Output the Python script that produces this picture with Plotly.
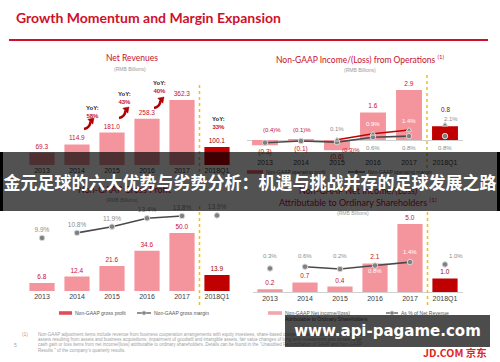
import plotly.graph_objects as go

W, H = 500, 362
def px(v): return v / W
def py(v): return 1 - v / H

# ---------------- data ----------------
years = ["2013", "2014", "2015", "2016", "2017", "2018Q1"]
net_revenues = [69.3, 114.9, 181.0, 258.3, 362.3, 100.1]
yoy_growth = ["58%", "43%", "40%", "33%"]
op_profit = [-0.3, -0.1, -0.6, 1.6, 2.9, 0.8]
op_margin = [-0.4, -0.1, -0.3, 0.6, 0.8, 0.8]
op_margin_2 = [None, None, 0.1, 0.9, 1.4, 2.1]
gross_profit = [6.8, 12.4, 21.6, 34.6, 50.0, 13.9]
gross_margin = [9.9, 10.8, 11.9, 13.4, 13.8, 13.9]
net_income = [0.2, 0.7, 0.4, 2.1, 5.0, 1.0]
net_margin = [0.3, 0.6, 0.2, 0.8, 1.4, 1.0]

# ---------------- style ----------------
SANS = "Liberation Sans, Arial, sans-serif"
TITLE_FONT = "Lato, Open Sans, sans-serif"
PINK = "#f4959d"
DARK = "#c00000"
RED_TXT = "#c8102e"
DARK_TXT = "#9a0000"
GREY_TXT = "#8c8c8c"
LINE_GREY = "#4a4a4a"
MARK_GREY = "#808080"
GOLD = "#f2c200"


def fmt_num(v):
    return f"({abs(v):.1f})" if v < 0 else f"{v:.1f}"


def fmt_pct(v):
    return f"({abs(v):.1f})%" if v < 0 else f"{v:.1f}%"


def seg(vals, lo, hi):
    return [v if (lo <= i <= hi) else None for i, v in enumerate(vals)]


fig = go.Figure()


def add_bars(vals, xa, ya, last_text=True):
    n = len(vals)
    texts = [fmt_num(v) for v in vals]
    if not last_text:
        texts[-1] = ""
    fig.add_trace(go.Bar(
        x=years, y=vals, xaxis=xa, yaxis=ya, width=0.72,
        marker=dict(color=[PINK] * (n - 1) + [DARK], line=dict(width=0)),
        text=texts, textposition="outside",
        textfont=dict(size=6.5, family=SANS, color=[RED_TXT] * (n - 1) + [DARK_TXT]),
        cliponaxis=False, constraintext="none", showlegend=False, hoverinfo="skip"))


def add_line(vals, xa, ya, color, lo, hi):
    fig.add_trace(go.Scatter(
        x=years, y=seg(vals, lo, hi), xaxis=xa, yaxis=ya, mode="lines",
        line=dict(color=color, width=1.6), connectgaps=False,
        showlegend=False, hoverinfo="skip", cliponaxis=False))


def add_markers(vals, xa, ya, symbol="circle", text=None, size=5.5):
    fig.add_trace(go.Scatter(
        x=years, y=vals, xaxis=xa, yaxis=ya,
        mode="markers+text" if text else "markers",
        marker=dict(symbol=symbol, size=size, color=MARK_GREY, line=dict(color="#d9d9d9", width=1)),
        text=text, textposition="top center",
        textfont=dict(size=6.5, family=SANS, color=GREY_TXT),
        showlegend=False, hoverinfo="skip", cliponaxis=False))


# Panel 1: Net revenues
add_bars(net_revenues, "x", "y")
# Panel 2: Non-GAAP operating profit + margins
add_bars(op_profit, "x2", "y2", last_text=False)
add_line(op_margin, "x2", "y5", LINE_GREY, 0, 4)
add_line(op_margin_2, "x2", "y8", "#c00000", 2, 4)
add_markers(op_margin, "x2", "y5")
add_markers(op_margin_2, "x2", "y8", symbol="triangle-up", size=5)
# Panel 3: gross profit + margin
add_bars(gross_profit, "x3", "y3")
add_line(gross_margin, "x3", "y6", LINE_GREY, 1, 4)
add_markers(gross_margin, "x3", "y6", text=[fmt_pct(v) for v in gross_margin])
# Panel 4: net income + margin
add_bars(net_income, "x4", "y4")
add_line(net_margin, "x4", "y7", LINE_GREY, 1, 4)
add_markers(net_margin, "x4", "y7")


def xcat(domain, anchor, showline=False):
    return dict(domain=domain, anchor=anchor, type="category", categoryorder="array",
                categoryarray=years, range=[-0.5, 5.5], showgrid=False, zeroline=False,
                showline=showline, linecolor="#d0d0d0", linewidth=1, ticks="",
                tickfont=dict(size=7, color="#404040", family=SANS), fixedrange=True)


def yval(domain, anchor, rng, zeroline=False):
    return dict(domain=domain, anchor=anchor, range=rng, showgrid=False, zeroline=zeroline,
                zerolinecolor="#cfcfcf", zerolinewidth=1, showticklabels=False, ticks="",
                showline=False, fixedrange=True)


def yover(over, anchor, rng):
    return dict(overlaying=over, anchor=anchor, range=rng, visible=False, fixedrange=True)


fig.update_layout(
    width=W, height=H, autosize=False,
    margin=dict(l=0, r=0, t=0, b=0, pad=0),
    paper_bgcolor="white", plot_bgcolor="rgba(0,0,0,0)",
    showlegend=False, bargap=0.28,
    xaxis=xcat([px(24.5), px(234.5)], "y"),
    yaxis=yval([py(165), py(93.2)], "x", [0, 400]),
    xaxis2=xcat([px(247), px(463)], "y2"),
    yaxis2=yval([py(157.24), py(83.1)], "x2", [-1.0, 3.3], zeroline=True),
    xaxis3=xcat([px(24.5), px(234.5)], "y3"),
    yaxis3=yval([py(291), py(209.8)], "x3", [0, 70]),
    xaxis4=xcat([px(252.5), px(462.5)], "y4", showline=True),
    yaxis4=yval([py(292), py(217.2)], "x4", [0, 5.5]),
    yaxis5=yover("y2", "x2", [-3.044, 10.436]),
    yaxis8=yover("y2", "x2", [-2.232, 7.653]),
    yaxis6=yover("y3", "x3", [0.496, 14.89]),
    yaxis7=yover("y4", "x4", [-3.759, 9.138]),
)

shapes = []
# header rule
shapes.append(dict(type="line", xref="paper", yref="paper", x0=px(9), x1=px(488), y0=py(40), y1=py(40),
                   line=dict(color="#d0102a", width=2)))
# dotted separators before 2018Q1
for xr, y0, y1 in [("x", 83, 178), ("x2", 73, 168), ("x3", 206, 305), ("x4", 212, 305)]:
    shapes.append(dict(type="line", xref=xr, yref="paper", x0=4.5, x1=4.5, y0=py(y1), y1=py(y0),
                       line=dict(color=GOLD, width=1.5, dash="dot")))


# swoosh growth icons (decoration)
def P(x, y):
    return f"{px(x):.5f},{py(y):.5f}"


def swoosh(hx, hy):
    body = f"M{P(hx - 10, hy + 11)} Q{P(hx - 4, hy + 10)} {P(hx - 3.5, hy + 3.5)}"
    shapes.append(dict(type="path", xref="paper", yref="paper", path=body,
                       line=dict(color="#b00000", width=2.6)))
    head = f"M{P(hx, hy)} L{P(hx - 1.2, hy + 6.2)} L{P(hx - 6.2, hy + 1.2)} Z"
    shapes.append(dict(type="path", xref="paper", yref="paper", path=head,
                       fillcolor="#b00000", line=dict(color="#b00000", width=0.5)))


for hx, hy in [(94, 118), (129, 107), (164, 97)]:
    swoosh(hx, hy)


# manual legend keys
def legend_bar(x0, x1, y, color):
    shapes.append(dict(type="rect", xref="paper", yref="paper", x0=px(x0), x1=px(x1),
                       y0=py(y + 1.8), y1=py(y - 1.8), fillcolor=color, line=dict(width=0)))


def legend_line(x0, x1, y):
    shapes.append(dict(type="line", xref="paper", yref="paper", x0=px(x0), x1=px(x1), y0=py(y), y1=py(y),
                       line=dict(color=LINE_GREY, width=1.2)))
    xm = (x0 + x1) / 2
    shapes.append(dict(type="circle", xref="paper", yref="paper", x0=px(xm - 2), x1=px(xm + 2),
                       y0=py(y + 2), y1=py(y - 2), fillcolor=MARK_GREY, line=dict(color="#d9d9d9", width=0.6)))


legend_bar(247, 263, 172, "#e8606c")
legend_line(348, 365, 172)
legend_bar(59, 72, 313, "#e34b5b")
legend_line(137, 151, 313)
legend_bar(268, 282, 313, "#f4a6ad")
legend_line(386, 398, 313)
# banner edges
shapes.append(dict(type="rect", xref="paper", yref="paper", x0=0, x1=px(3), y0=py(211), y1=py(152),
                   fillcolor="black", line=dict(width=0)))
shapes.append(dict(type="rect", xref="paper", yref="paper", x0=px(497), x1=1, y0=py(211), y1=py(152),
                   fillcolor="black", line=dict(width=0)))
fig.update_layout(shapes=shapes)


def note(text, x, y, xref="paper", yref="paper", size=6, color=GREY_TXT, family=SANS,
         xanchor="center", yanchor="middle", xshift=0, yshift=0, **kw):
    fig.add_annotation(text=text, x=x, y=y, xref=xref, yref=yref, showarrow=False,
                       font=dict(size=size, color=color, family=family), xanchor=xanchor,
                       yanchor=yanchor, xshift=xshift, yshift=yshift, borderpad=0, **kw)


# header
note("<b>Growth Momentum and Margin Expansion</b>", px(15), py(18), size=14, color="#d0102a",
     family=TITLE_FONT, xanchor="left")

# panel titles
note("Net Revenues", px(132), py(58), size=8.5, color=RED_TXT, family=TITLE_FONT)
note("(RMB Billions)", px(130), py(69), size=5, color="#9a9a9a")
note("Non-GAAP Income/(Loss) from Operations <sup>(1)</sup>", px(360), py(59), size=8.5,
     color=RED_TXT, family=TITLE_FONT)
note("(RMB Billions)", px(360), py(70), size=5, color="#9a9a9a")
note("Non-GAAP Gross Profit", px(125), py(189), size=9, color=RED_TXT, family=TITLE_FONT)
note("(RMB Billions)", px(122), py(200), size=5, color="#9a9a9a")
note("Non-GAAP Net Income/(Loss)", px(358), py(190), size=9, color=RED_TXT, family=TITLE_FONT)
note("Attributable to Ordinary Shareholders <sup>(1)</sup>", px(358), py(202), size=9,
     color=RED_TXT, family=TITLE_FONT)
note("(RMB Billions)", px(353), py(213), size=5, color="#9a9a9a")

# YoY call-outs (panel 1)
yoy_pos = [(1.43, 111.5), (2.37, 98), (3.37, 87), (5.03, 123)]
for g, (xi, yc) in zip(yoy_growth, yoy_pos):
    note(f"<b>YoY:</b><br><b><span style='color:{RED_TXT}'>{g}</span></b>", xi, py(yc),
         xref="x", size=6, color="#222222")

# panel 2 labels
note(fmt_num(op_profit[-1]), 5, py(109), xref="x2", size=6.5, color=DARK_TXT)
grey_pos = [(7, 130), (1, 130), (14, 150), (0, 148), (0, 148), (0, 148)]
for i, (v, (dx, yy)) in enumerate(zip(op_margin, grey_pos)):
    note(fmt_pct(v), i, py(yy), xref="x2", size=6, color=RED_TXT if v < 0 else GREY_TXT, xshift=dx)
red_pos = {2: (0, 129, GREY_TXT), 3: (0, 124, "white"), 4: (0, 121, "white"), 5: (6, 119, GREY_TXT)}
for i, v in enumerate(op_margin_2):
    if v is None:
        continue
    dx, yy, col = red_pos[i]
    note(fmt_pct(v), i, py(yy), xref="x2", size=6, color=col, xshift=dx)

# panel 4 margin labels
net_pos = [(0, 256, GREY_TXT), (0, 256, GREY_TXT), (0, 256, GREY_TXT), (0, 271, "white"),
           (0, 252, "white"), (11, 256, GREY_TXT)]
for i, (v, (dx, yy, col)) in enumerate(zip(net_margin, net_pos)):
    note(fmt_pct(v), i, py(yy), xref="x4", size=6, color=col, xshift=dx)

# legend texts
note("Non-GAAP operating profit", px(265), py(172), size=5, color="#555555", xanchor="left")
note("Non-GAAP operating margin", px(367), py(172), size=5, color="#555555", xanchor="left")
note("Non-GAAP gross profit", px(74), py(313), size=5, color="#555555", xanchor="left")
note("Non-GAAP gross margin", px(153), py(313), size=5, color="#555555", xanchor="left")
note("Non-GAAP Net income/(loss)", px(284), py(313), size=5, color="#555555", xanchor="left")
note("Attributable to Ordinary Shareholders", px(284), py(319), size=5, color="#555555", xanchor="left")
note("As % of Net Revenue", px(400), py(313), size=5, color="#555555", xanchor="left")

# footnote
note("(1)", px(25), py(334), size=4.8, color="#a0a0a0")
note("5", px(15), py(345), size=5, color="#a0a0a0")
foot = [
    "Non-GAAP adjustment items include revenue from business cooperation arrangements with equity investees, share-based compensation, amortization of intangible",
    "assets resulting from assets and business acquisitions, impairment of goodwill and intangible assets, fair value changes of long-term investments and certain large",
    "cash gain or loss items from net income/(loss) attributable to ordinary shareholders. Details can be found in the \u201cUnaudited Reconciliation of GAAP and Non-GAAP",
    "Results \u201d of the company\u2019s quarterly results.",
]
for k, line in enumerate(foot):
    note(line, px(37), py(334 + 5.4 * k), size=4.5, color="#a0a0a0", xanchor="left")

# banner overlay (text on a translucent strip)
note("<b>金元足球的六大优势与劣势分析：机遇与挑战并存的足球发展之路</b>", 0.5, py(181.5),
     size=17, color="white", family="Noto Sans CJK SC", width=500, height=59,
     bgcolor="rgba(0,0,0,0.68)", borderwidth=0)

# watermark
note("<b>www.api-pagame.com</b>", px(387.5), py(331), size=15, color="white", family="DejaVu Sans",
     width=205, height=32, bgcolor="rgba(0,0,0,0.7)", borderwidth=0)
note("<b>JD.COM 京东</b>", px(455), py(352), size=10.5, color="#e1251b", family="Noto Sans CJK SC")

fig.write_html("out.html", config={"displayModeBar": False},
               post_script="document.body.style.margin='0';document.body.style.padding='0';")
